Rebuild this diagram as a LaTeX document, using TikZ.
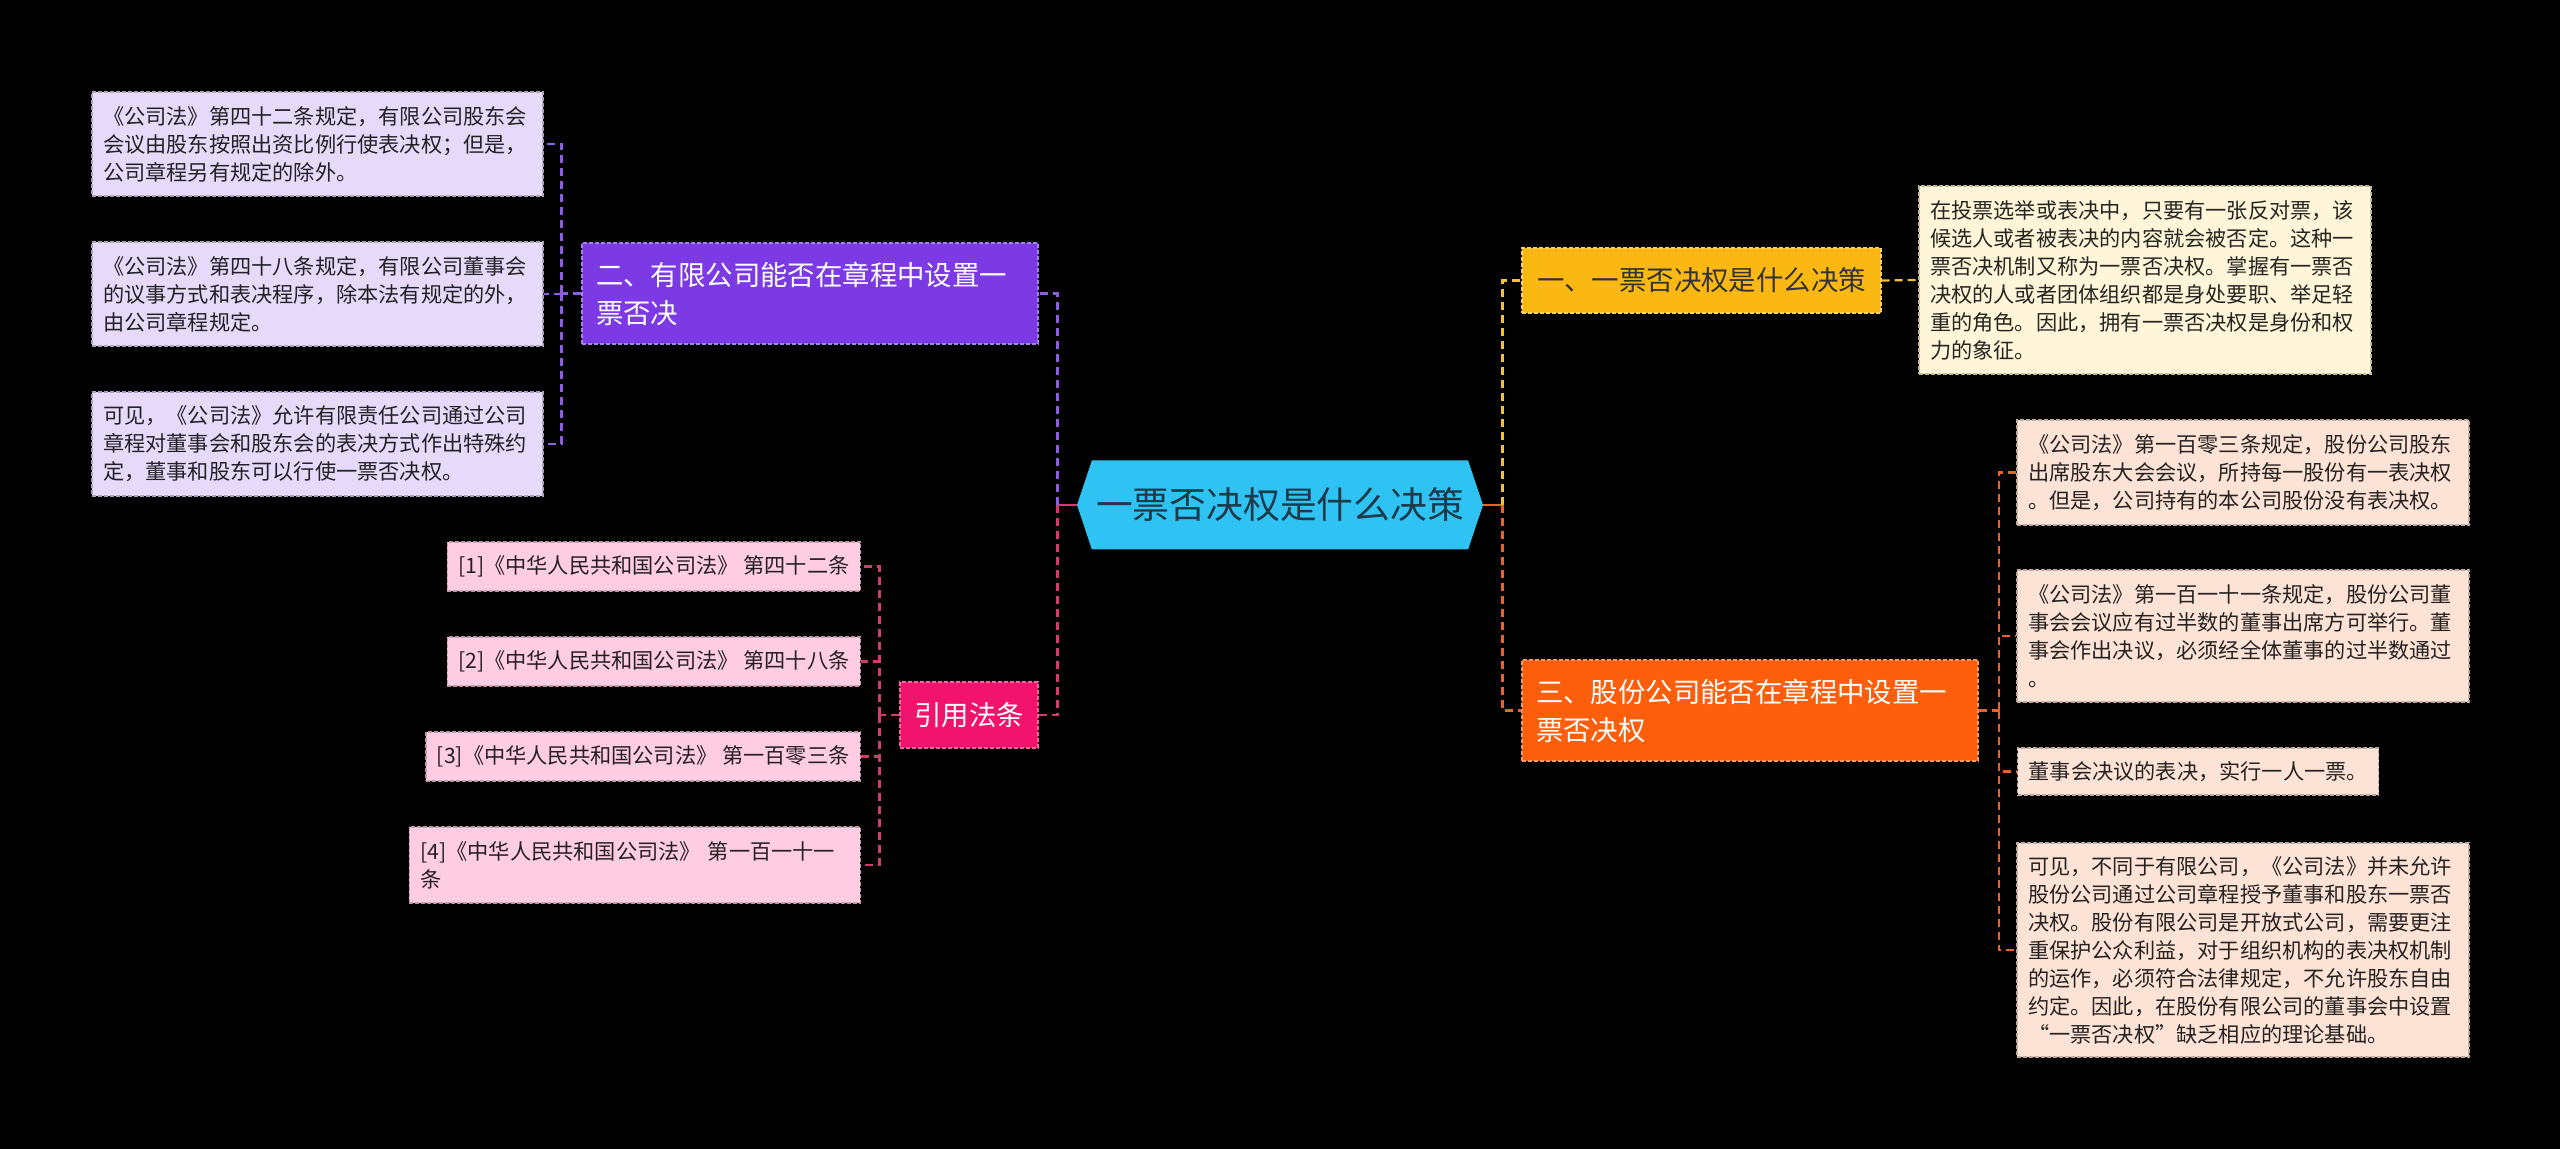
\documentclass[tikz,border=0pt]{standalone}
\usepackage{fontspec}
\setmainfont{Noto Sans CJK SC}
\usepackage{xcolor}
\usetikzlibrary{shapes.symbols}

\definecolor{hubcol}{HTML}{2EC3F3}
\definecolor{hubtext}{HTML}{1C3A4A}
\definecolor{yelcol}{HTML}{FBB813}
\definecolor{yelleaf}{HTML}{FFF5D8}
\definecolor{yelline}{HTML}{F2C230}
\definecolor{oracol}{HTML}{FC5E0B}
\definecolor{oraleaf}{HTML}{FDE3D5}
\definecolor{oraline}{HTML}{E8622A}
\definecolor{purcol}{HTML}{7C3AE5}
\definecolor{purleaf}{HTML}{E6DAFA}
\definecolor{purline}{HTML}{8B5FE0}
\definecolor{pnkcol}{HTML}{F2136D}
\definecolor{pnkleaf}{HTML}{FECDE1}
\definecolor{pnkline}{HTML}{D63A6E}

\tikzset{
  hubbox/.style={signal, signal to=west and east, signal pointer angle=143,
    fill=hubcol, text=hubtext, inner sep=0pt, minimum width=203pt, minimum height=44.5pt,
    font=\fontsize{18.4}{22}\selectfont},
  leaf/.style={rectangle, fill=#1, draw=#1!75!black, dash pattern=on 2pt off 1pt,
    line width=0.6pt, inner xsep=5.5pt, inner ysep=5pt, align=left,
    text=#1!15!black, font=\fontsize{10.6}{14}\selectfont},
  branch/.style={rectangle, fill=#1, draw=#1!65!white, dash pattern=on 2pt off 1pt,
    line width=0.6pt, inner xsep=7pt, inner ysep=5pt, align=left,
    text=white, font=\fontsize{13.7}{19}\selectfont},
  conn/.style={draw=#1, line width=1.1pt, dash pattern=on 4pt off 2.5pt},
}

\begin{document}
\begin{tikzpicture}[x=0.5pt,y=-0.5pt]
  \fill[black] (0,0) rectangle (2560,1149);
  \useasboundingbox (0,0) rectangle (2560,1149);

  % centre
  \node[hubbox] (hub) at (1280,505) {一票否决权是什么决策};

  % branches
  \node[branch=yelcol, text=black!80, minimum width=179.5pt, minimum height=32.5pt, align=center] (b1) at (1701.5,280.5) {一、一票否决权是什么决策};
  \node[branch=purcol, text width=214pt, minimum height=50.5pt] (b2) at (810,293.5) {二、有限公司能否在章程中设置一\\票否决};
  \node[branch=oracol, text width=214pt, minimum height=50.5pt] (b3) at (1750,710.5) {三、股份公司能否在章程中设置一\\票否决权};
  \node[branch=pnkcol, minimum width=69pt, minimum height=33pt, align=center] (b4) at (969,715) {引用法条};

  % branch one
  \node[leaf=yelleaf, text width=215pt, minimum height=94pt] (y1) at (2145,280) {在投票选举或表决中，只要有一张反对票，该\\候选人或者被表决的内容就会被否定。这种一\\票否决机制又称为一票否决权。掌握有一票否\\决权的人或者团体组织都是身处要职、举足轻\\重的角色。因此，拥有一票否决权是身份和权\\力的象征。};

  % branch two
  \node[leaf=purleaf, text width=214.5pt, minimum height=52pt] (p1) at (317.5,144) {《公司法》第四十二条规定，有限公司股东会\\会议由股东按照出资比例行使表决权；但是，\\公司章程另有规定的除外。};
  \node[leaf=purleaf, text width=214.5pt, minimum height=52pt] (p2) at (317.5,294) {《公司法》第四十八条规定，有限公司董事会\\的议事方式和表决程序，除本法有规定的外，\\由公司章程规定。};
  \node[leaf=purleaf, text width=214.5pt, minimum height=52pt] (p3) at (317.5,444) {可见，《公司法》允许有限责任公司通过公司\\章程对董事会和股东会的表决方式作出特殊约\\定，董事和股东可以行使一票否决权。};

  % branch three
  \node[leaf=oraleaf, text width=215pt, minimum height=52.5pt] (o1) at (2243,472.5) {《公司法》第一百零三条规定，股份公司股东\\出席股东大会会议，所持每一股份有一表决权\\。但是，公司持有的本公司股份没有表决权。};
  \node[leaf=oraleaf, text width=215pt, minimum height=66pt] (o2) at (2243,636) {《公司法》第一百一十一条规定，股份公司董\\事会会议应有过半数的董事出席方可举行。董\\事会作出决议，必须经全体董事的过半数通过\\。};
  \node[leaf=oraleaf, anchor=west, minimum height=23.5pt] (o3) at (2017,771.5) {董事会决议的表决，实行一人一票。};
  \node[leaf=oraleaf, text width=215pt, minimum height=107pt] (o4) at (2243,950) {可见，不同于有限公司，《公司法》并未允许\\股份公司通过公司章程授予董事和股东一票否\\决权。股份有限公司是开放式公司，需要更注\\重保护公众利益，对于组织机构的表决权机制\\的运作，必须符合法律规定，不允许股东自由\\约定。因此，在股份有限公司的董事会中设置\\“一票否决权”缺乏相应的理论基础。};

  % references
  \node[leaf=pnkleaf, anchor=east, minimum height=24.5pt] (k1) at (861,566.5) {[1]《中华人民共和国公司法》 第四十二条};
  \node[leaf=pnkleaf, anchor=east, minimum height=24.5pt] (k2) at (861,661.5) {[2]《中华人民共和国公司法》 第四十八条};
  \node[leaf=pnkleaf, anchor=east, minimum height=24.5pt] (k3) at (861,756.5) {[3]《中华人民共和国公司法》 第一百零三条};
  \node[leaf=pnkleaf, anchor=east, text width=214.5pt, minimum height=38pt] (k4) at (861,865) {[4]《中华人民共和国公司法》 第一百一十一\\条};

  % connectors, right
  \draw[conn=oraline, solid] (hub.east) -- ++(19,0) coordinate (jr);
  \draw[conn=yelline] (jr) |- (b1.west);
  \draw[conn=oraline] (jr) |- (b3.west);
  \draw[conn=yelline] (b1.east) -- (y1.west);
  \draw[conn=oraline] (b3.east) -- ++(20,0) coordinate (jo);
  \foreach \i in {1,...,4}
    \draw[conn=oraline] (jo) |- (o\i.west);

  % connectors, left
  \draw[conn=pnkline, solid] (hub.west) -- ++(-19,0) coordinate (jl);
  \draw[conn=purline] (jl) |- (b2.east);
  \draw[conn=pnkline] (jl) |- (b4.east);
  \draw[conn=purline] (b2.west) -- ++(-20,0) coordinate (jp);
  \foreach \i in {1,...,3}
    \draw[conn=purline] (jp) |- (p\i.east);
  \draw[conn=pnkline] (b4.west) -- ++(-20,0) coordinate (jk);
  \foreach \i in {1,...,4}
    \draw[conn=pnkline] (jk) |- (k\i.east);
\end{tikzpicture}
\end{document}
